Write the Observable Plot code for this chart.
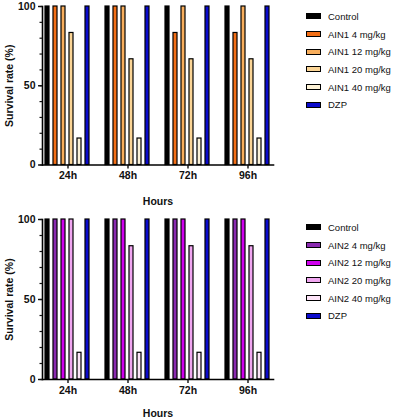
<!DOCTYPE html>
<html>
<head>
<meta charset="utf-8">
<script src="https://cdn.jsdelivr.net/npm/d3@7"></script>
<script src="https://cdn.jsdelivr.net/npm/@observablehq/plot@0.6"></script>
<style>
  body { margin: 0; background: #fff; font-family: "Liberation Sans", Arial, sans-serif; }
  .panel { position: relative; width: 400px; height: 210px; }
  .legend { position: absolute; left: 306px; font-size: 9.5px; color: #111; }
  .legend .row { display: flex; align-items: center; height: 17.7px; }
  .legend .sw { width: 13px; height: 4px; border: 1.2px solid #000; margin-right: 7px; }
</style>
</head>
<body>
<div id="chart"></div>
<script>
// time points (x groups)
const hours = ["24h", "48h", "72h", "96h"];

// panel 1: AIN1
const names1 = ["Control", "AIN1 4 mg/kg", "AIN1 12 mg/kg", "AIN1 20 mg/kg", "AIN1 40 mg/kg", "DZP"];
const colors1 = ["#000000", "#f36f16", "#f8ae5c", "#fbd596", "#fdf2d6", "#0b0bcc"];
const control1 = [100, 100, 100, 100];
const ain1_4 = [100, 100, 83.3, 83.3];
const ain1_12 = [100, 100, 100, 100];
const ain1_20 = [83.3, 66.7, 66.7, 66.7];
const ain1_40 = [16.7, 16.7, 16.7, 16.7];
const dzp1 = [100, 100, 100, 100];

// panel 2: AIN2
const names2 = ["Control", "AIN2 4 mg/kg", "AIN2 12 mg/kg", "AIN2 20 mg/kg", "AIN2 40 mg/kg", "DZP"];
const colors2 = ["#000000", "#8a2ab0", "#d000ee", "#f0a6f0", "#fde4f8", "#0b0bcc"];
const control2 = [100, 100, 100, 100];
const ain2_4 = [100, 100, 100, 100];
const ain2_12 = [100, 100, 100, 100];
const ain2_20 = [100, 83.3, 83.3, 83.3];
const ain2_40 = [16.7, 16.7, 16.7, 16.7];
const dzp2 = [100, 100, 100, 100];

const yMajor = [0, 50, 100];
const yMinor = d3.range(0, 101, 10);

function panel(series, names, colors, opts) {
  const rows = [];
  names.forEach((n, i) => hours.forEach((h, j) => rows.push({hour: h, group: n, value: series[i][j]})));

  const plot = Plot.plot({
    width: 400,
    height: 210,
    marginLeft: 42,
    marginRight: 121,
    marginTop: opts.top,
    marginBottom: opts.bottom,
    fx: {domain: hours, paddingInner: 0.15, paddingOuter: 0.05, align: 0, label: null},
    x: {domain: names, paddingInner: 0.48, paddingOuter: 0.08, axis: null},
    y: {domain: [0, 100], axis: null},
    color: {domain: names, range: colors},
    style: {fontFamily: "'Liberation Sans', Arial, sans-serif", fontWeight: "bold", fontSize: "10.5px", color: "#111"},
    marks: [
      Plot.barY(rows, {fx: "hour", x: "group", y: "value", fill: "group", stroke: "#000", strokeWidth: 1.2}),
      Plot.frame({anchor: "bottom", facet: "super", stroke: "#000", strokeWidth: 1.6}),
      Plot.frame({anchor: "left", facet: "super", stroke: "#000", strokeWidth: 1.6}),
      Plot.axisFx({anchor: "bottom", tickSize: 4, tickPadding: 3, strokeWidth: 1.4, label: "Hours", labelAnchor: "center", labelOffset: opts.labelOffset, fontSize: 10.5}),
      Plot.axisY({ticks: yMajor, tickSize: 4, strokeWidth: 1.4, tickPadding: 3, label: "Survival rate (%)", labelArrow: "none", labelAnchor: "center", labelOffset: 37}),
      Plot.axisY({ticks: yMinor, tickSize: 2.5, strokeWidth: 1.2, text: null, label: null})
    ]
  });

  const div = document.createElement("div");
  div.className = "panel";
  div.appendChild(plot);

  const legend = document.createElement("div");
  legend.className = "legend";
  legend.style.top = opts.legendTop + "px";
  names.forEach((n, i) => {
    const row = document.createElement("div");
    row.className = "row";
    const sw = document.createElement("span");
    sw.className = "sw";
    sw.style.background = colors[i];
    const label = document.createElement("span");
    label.textContent = n;
    row.appendChild(sw);
    row.appendChild(label);
    legend.appendChild(row);
  });
  div.appendChild(legend);
  return div;
}

const chart = document.getElementById("chart");
chart.appendChild(panel([control1, ain1_4, ain1_12, ain1_20, ain1_40, dzp1], names1, colors1,
  {top: 6, bottom: 45.5, labelOffset: 40, legendTop: 7.5}));
chart.appendChild(panel([control2, ain2_4, ain2_12, ain2_20, ain2_40, dzp2], names2, colors2,
  {top: 9, bottom: 41, labelOffset: 37, legendTop: 8.5}));
</script>
</body>
</html>
